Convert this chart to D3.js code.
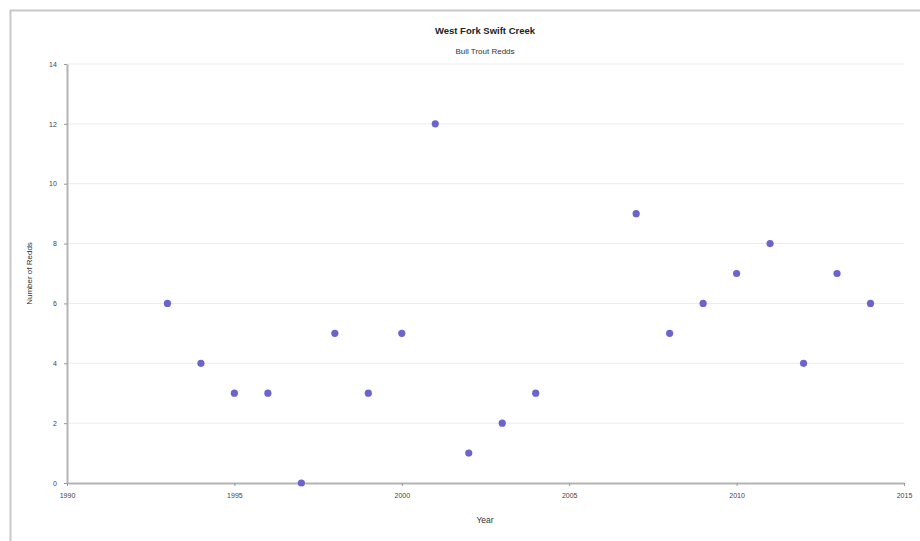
<!DOCTYPE html>
<html>
<head>
<meta charset="utf-8">
<script src="https://cdn.jsdelivr.net/npm/d3@7"></script>
<style>
  html, body { margin: 0; padding: 0; background: #fff; }
  svg { display: block; font-family: "Liberation Sans", Arial, sans-serif; }
</style>
</head>
<body>
<svg id="chart" width="920" height="541"></svg>
<script>
// Bull trout redd counts, West Fork Swift Creek
const years = [1993, 1994, 1995, 1996, 1997, 1998, 1999, 2000, 2001, 2002, 2003, 2004,
               2007, 2008, 2009, 2010, 2011, 2012, 2013, 2014];
const redds = [6, 4, 3, 3, 0, 5, 3, 5, 12, 1, 2, 3,
               9, 5, 6, 7, 8, 4, 7, 6];
const xTicks = [1990, 1995, 2000, 2005, 2010, 2015];
const yTicks = [0, 2, 4, 6, 8, 10, 12, 14];

const svg = d3.select("#chart");
const W = 920, H = 541;
const m = { left: 67, right: 16, top: 64, bottom: 58 };

// outer frame
svg.append("rect")
  .attr("x", 10.5).attr("y", 10.5)
  .attr("width", W + 10).attr("height", H + 10)
  .attr("fill", "none").attr("stroke", "#c8c8c8").attr("stroke-width", 2);

const x = d3.scaleLinear().domain([1990, 2015]).range([m.left, W - m.right]);
const y = d3.scaleLinear().domain([0, 14]).range([H - m.bottom, m.top]);

// horizontal gridlines
svg.append("g")
  .selectAll("line")
  .data(yTicks.filter(d => d > 0))
  .join("line")
  .attr("x1", x(1990)).attr("x2", x(2015))
  .attr("y1", d => y(d)).attr("y2", d => y(d))
  .attr("stroke", "#ececec").attr("stroke-width", 1);

// axes
const xAxis = svg.append("g")
  .attr("transform", `translate(0,${y(0)})`)
  .call(d3.axisBottom(x).tickValues(xTicks).tickFormat(d3.format("d")).tickSize(3).tickSizeOuter(0));
const yAxis = svg.append("g")
  .attr("transform", `translate(${x(1990)},0)`)
  .call(d3.axisLeft(y).tickValues(yTicks).tickSize(3).tickSizeOuter(0));

[xAxis, yAxis].forEach(g => {
  g.select(".domain").attr("stroke", "#b4b4b4").attr("stroke-width", 2);
  g.selectAll(".tick line").attr("stroke", "#999");
  g.selectAll(".tick text").attr("fill", "#444").attr("font-size", 7);
});
xAxis.selectAll(".tick text").attr("dy", "1.3em");
yAxis.selectAll(".tick text").attr("dx", "-0.6em");

// points
svg.append("g")
  .selectAll("circle")
  .data(years.map((yr, i) => ({ yr, v: redds[i] })))
  .join("circle")
  .attr("cx", d => x(d.yr))
  .attr("cy", d => y(d.v))
  .attr("r", 3.6)
  .attr("fill", "#6a64cc");

// titles
svg.append("text")
  .attr("x", 485).attr("y", 34)
  .attr("text-anchor", "middle")
  .attr("font-size", 9.5).attr("font-weight", "bold").attr("fill", "#222")
  .text("West Fork Swift Creek");
svg.append("text")
  .attr("x", 485).attr("y", 54)
  .attr("text-anchor", "middle")
  .attr("font-size", 8).attr("fill", "#333")
  .text("Bull Trout Redds");

// axis titles
svg.append("text")
  .attr("x", 485).attr("y", 523)
  .attr("text-anchor", "middle")
  .attr("font-size", 8.5).attr("fill", "#333")
  .text("Year");
svg.append("text")
  .attr("transform", `translate(32,${(y(0) + y(14)) / 2}) rotate(-90)`)
  .attr("text-anchor", "middle")
  .attr("font-size", 8).attr("fill", "#333")
  .text("Number of Redds");
</script>
</body>
</html>
